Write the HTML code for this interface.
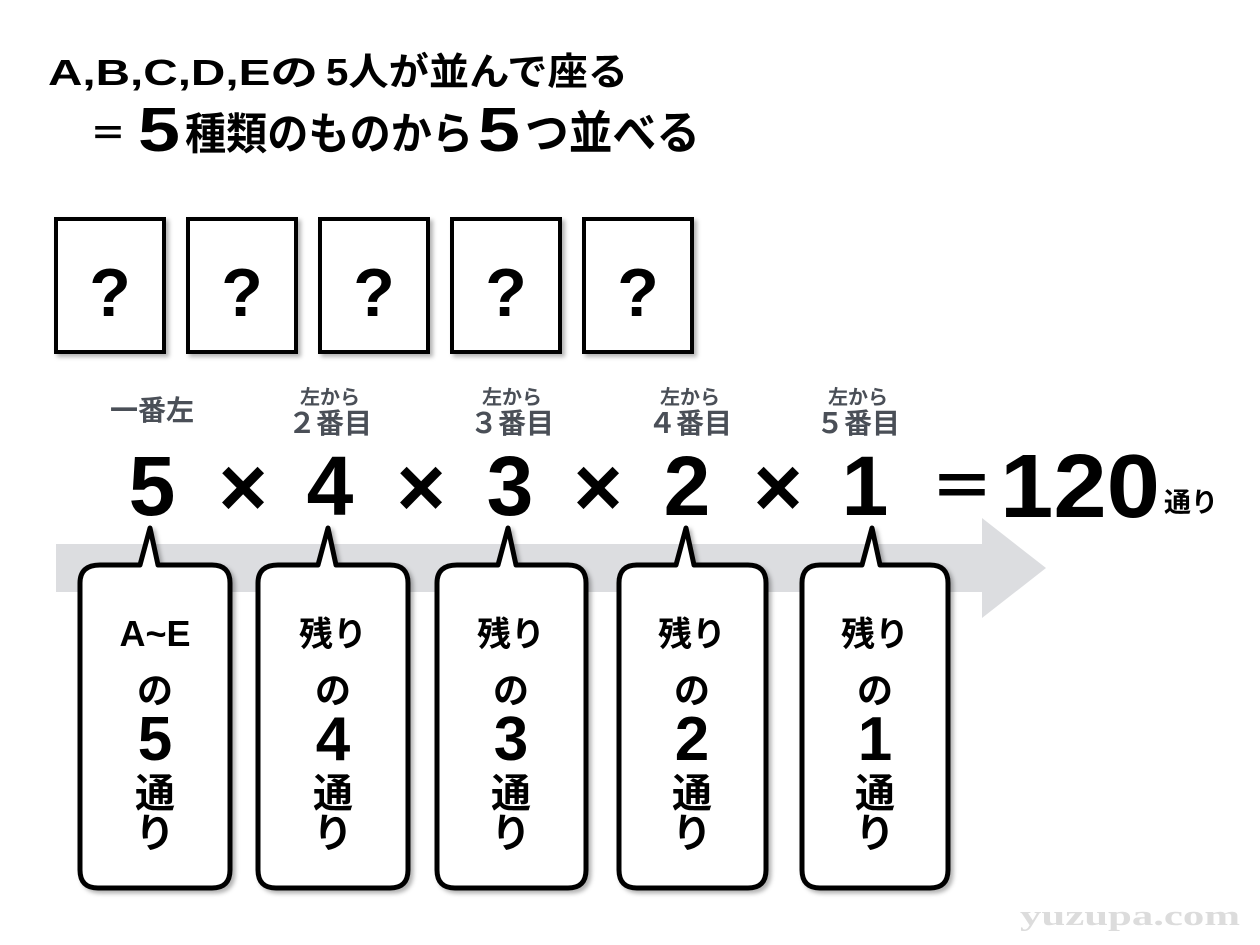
<!DOCTYPE html>
<html><head><meta charset="utf-8"><style>
html,body{margin:0;padding:0;background:#fff;}
svg{display:block;}
text{font-family:"Liberation Sans","Noto Sans CJK JP",sans-serif;font-weight:bold;}
</style></head><body>
<svg width="1260" height="945" viewBox="0 0 1260 945" xmlns="http://www.w3.org/2000/svg">
<defs>
<filter id="sh" x="-10%" y="-10%" width="130%" height="130%"><feDropShadow dx="3" dy="3" stdDeviation="2" flood-color="#000" flood-opacity="0.3"/></filter>
</defs>
<!-- title -->
<text x="48" y="85" font-size="36" textLength="270" lengthAdjust="spacingAndGlyphs">A,B,C,D,Eの</text>
<text x="326" y="85" font-size="38" textLength="302" lengthAdjust="spacingAndGlyphs">5人が並んで座る</text>
<text x="90" y="146" font-size="36">＝</text>
<text x="138" y="151" font-size="62" textLength="42" lengthAdjust="spacingAndGlyphs">5</text>
<text x="185" y="149" font-size="44" textLength="288" lengthAdjust="spacingAndGlyphs">種類のものから</text>
<text x="478" y="151" font-size="62" textLength="42" lengthAdjust="spacingAndGlyphs">5</text>
<text x="525" y="149" font-size="46" textLength="175" lengthAdjust="spacingAndGlyphs">つ並べる</text>

<!-- boxes -->
<g filter="url(#sh)" fill="#fff" stroke="#000" stroke-width="4">
<rect x="56" y="219" width="108" height="133"/>
<rect x="188" y="219" width="108" height="133"/>
<rect x="320" y="219" width="108" height="133"/>
<rect x="452" y="219" width="108" height="133"/>
<rect x="584" y="219" width="108" height="133"/>
</g>
<g font-size="68" text-anchor="middle">
<text x="110" y="316">?</text><text x="242" y="316">?</text><text x="374" y="316">?</text><text x="506" y="316">?</text><text x="638" y="316">?</text>
</g>

<!-- gray labels -->
<g fill="#4a4f57" text-anchor="middle">
<text x="152" y="420" font-size="28">一番左</text>
<text x="330" y="404" font-size="20">左から</text><text x="330" y="433" font-size="28">２番目</text>
<text x="512" y="404" font-size="20">左から</text><text x="512" y="433" font-size="28">３番目</text>
<text x="690" y="404" font-size="20">左から</text><text x="690" y="433" font-size="28">４番目</text>
<text x="858" y="404" font-size="20">左から</text><text x="858" y="433" font-size="28">５番目</text>
</g>

<!-- main equation -->
<g font-size="84" text-anchor="middle">
<text x="152" y="515">5</text>
<text x="330" y="515">4</text>
<text x="510" y="515">3</text>
<text x="687" y="515">2</text>
<text x="865" y="515">1</text>
</g>
<g font-size="84" text-anchor="middle">
<text x="243" y="516">×</text><text x="421" y="516">×</text><text x="598" y="516">×</text><text x="778" y="516">×</text>
</g>
<text x="930" y="510" font-size="64">＝</text>
<text x="1000" y="517" font-size="90" textLength="160" lengthAdjust="spacingAndGlyphs">120</text>
<text x="1164" y="512" font-size="27">通り</text>

<!-- arrow -->
<polygon points="56,544 982,544 982,518 1046,568 982,618 982,592 56,592" fill="#dcdde0"/>

<!-- bubbles -->
<g filter="url(#sh)" fill="#fff" stroke="#000" stroke-width="5" stroke-linejoin="round">
<path d="M100,565 H140 L150,528 L158,565 H212 Q230,565 230,583 V870 Q230,888 212,888 H98 Q80,888 80,870 V583 Q80,565 100,565 Z"/>
<path d="M278,565 H318 L328,528 L336,565 H390 Q408,565 408,583 V870 Q408,888 390,888 H276 Q258,888 258,870 V583 Q258,565 278,565 Z"/>
<path d="M457,565 H498 L508,528 L516,565 H568 Q586,565 586,583 V870 Q586,888 568,888 H455 Q437,888 437,870 V583 Q437,565 457,565 Z"/>
<path d="M637,565 H676 L686,528 L694,565 H748 Q766,565 766,583 V870 Q766,888 748,888 H637 Q619,888 619,870 V583 Q619,565 637,565 Z"/>
<path d="M820,565 H862 L872,528 L880,565 H930 Q948,565 948,583 V870 Q948,888 930,888 H820 Q802,888 802,870 V583 Q802,565 820,565 Z"/>
</g>
<g text-anchor="middle">
<text x="155" y="646" font-size="36">A~E</text>
<text x="155" y="703" font-size="36">の</text>
<text x="155" y="760" font-size="62">5</text>
<text x="155" y="807" font-size="40">通</text>
<text x="155" y="847" font-size="40">り</text>

<text x="333" y="646" font-size="34">残り</text>
<text x="333" y="703" font-size="36">の</text>
<text x="333" y="760" font-size="62">4</text>
<text x="333" y="807" font-size="40">通</text>
<text x="333" y="847" font-size="40">り</text>

<text x="511" y="646" font-size="34">残り</text>
<text x="511" y="703" font-size="36">の</text>
<text x="511" y="760" font-size="62">3</text>
<text x="511" y="807" font-size="40">通</text>
<text x="511" y="847" font-size="40">り</text>

<text x="692" y="646" font-size="34">残り</text>
<text x="692" y="703" font-size="36">の</text>
<text x="692" y="760" font-size="62">2</text>
<text x="692" y="807" font-size="40">通</text>
<text x="692" y="847" font-size="40">り</text>

<text x="875" y="646" font-size="34">残り</text>
<text x="875" y="703" font-size="36">の</text>
<text x="875" y="760" font-size="62">1</text>
<text x="875" y="807" font-size="40">通</text>
<text x="875" y="847" font-size="40">り</text>
</g>

<text x="1020" y="925" font-size="28" fill="#dcdcdc" style="font-family:'Liberation Serif',serif;font-weight:bold" textLength="220" lengthAdjust="spacingAndGlyphs">yuzupa.com</text>
</svg>
</body></html>
